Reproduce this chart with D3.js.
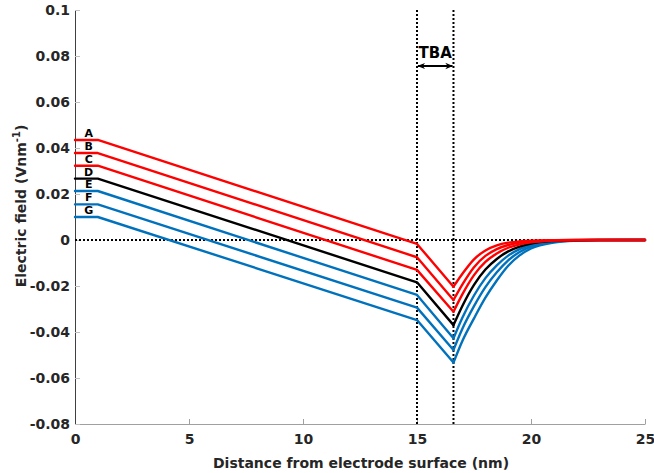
<!DOCTYPE html>
<html><head><meta charset="utf-8">
<script src="https://cdn.jsdelivr.net/npm/d3@7"></script>
<style>body{margin:0;background:#fff}svg{display:block}text{font-family:"DejaVu Sans",sans-serif;font-weight:bold}</style>
</head><body>
<script>
const xPoints = [0, 1, 15, 16.6, 17, 17.5, 18, 18.5, 19, 19.5, 20, 21, 22, 23, 25];
const seriesA = [0.0435, 0.0435, -0.0017, -0.0203, -0.01456, -0.0084, -0.00455, -0.00233, -0.00116, -0.00057, -0.00026, -0.00006, 0, 0, 0];
const seriesB = [0.0378, 0.0378, -0.0075, -0.0261, -0.01916, -0.0118, -0.00692, -0.00394, -0.00217, -0.00115, -0.0006, -0.00016, -0.00003, 0, 0];
const seriesC = [0.0323, 0.0323, -0.0130, -0.0312, -0.02343, -0.01526, -0.00955, -0.00583, -0.00337, -0.00187, -0.001, -0.00028, -0.00006, 0, 0];
const seriesD = [0.0267, 0.0267, -0.0184, -0.0370, -0.02845, -0.0195, -0.01284, -0.00825, -0.00496, -0.00285, -0.00155, -0.00044, -0.00009, -0.00002, 0];
const seriesE = [0.0213, 0.0213, -0.0239, -0.0427, -0.03356, -0.02413, -0.01657, -0.01102, -0.00679, -0.00397, -0.00218, -0.0006, -0.00013, -0.00003, 0];
const seriesF = [0.0155, 0.0155, -0.0294, -0.0478, -0.03838, -0.02878, -0.02051, -0.01405, -0.00884, -0.00521, -0.00292, -0.00081, -0.00019, -0.00004, 0];
const seriesG = [0.0100, 0.0100, -0.0348, -0.0533, -0.0437, -0.0341, -0.0251, -0.0176, -0.0112, -0.0067, -0.0037, -0.0011, -0.0003, -0.00005, 0];
const seriesNames = ["A", "B", "C", "D", "E", "F", "G"];
const seriesColors = ["#ff0000", "#ff0000", "#ff0000", "#000000", "#0072bd", "#0072bd", "#0072bd"];
const xTicks = [0, 5, 10, 15, 20, 25];
const yTicks = [-0.08, -0.06, -0.04, -0.02, 0, 0.02, 0.04, 0.06, 0.08, 0.1];
const yTickLabels = ["-0.08", "-0.06", "-0.04", "-0.02", "0", "0.02", "0.04", "0.06", "0.08", "0.1"];
const tbaBounds = [15, 16.6];
const xLabel = "Distance from electrode surface (nm)";
const yLabel = "Electric field (Vnm";

const FONT = '"DejaVu Sans",sans-serif';
const W = 654, H = 473;
const m = {l: 75, r: 9, t: 10, b: 49};
const x = d3.scaleLinear().domain([0, 25]).range([m.l, W - m.r]);
const y = d3.scaleLinear().domain([-0.08, 0.1]).range([H - m.b, m.t]);

const svg = d3.select("body").append("svg").attr("width", W).attr("height", H);

// axes
const xAxis = svg.append("g").attr("transform", `translate(0,${H - m.b})`)
  .call(d3.axisBottom(x).tickValues(xTicks).tickSizeInner(-5).tickSizeOuter(0).tickPadding(10).tickFormat(d3.format("d")));
xAxis.select(".domain").attr("stroke", "#a0a0a0");
xAxis.selectAll(".tick line").attr("stroke", "#a0a0a0");
xAxis.selectAll("text").attr("font-size", 14).attr("fill", "#262626").style("font-family", FONT).style("font-weight", "bold");

const yAxis = svg.append("g").attr("transform", `translate(${m.l},0)`)
  .call(d3.axisLeft(y).tickValues(yTicks).tickSizeInner(-5).tickSizeOuter(0).tickPadding(5)
    .tickFormat((d, i) => yTickLabels[i]));
yAxis.select(".domain").attr("stroke", "#404040");
yAxis.selectAll(".tick line").attr("stroke", "#c0c0c0");
yAxis.selectAll("text").attr("font-size", 14).attr("fill", "#262626").style("font-family", FONT).style("font-weight", "bold");

// reference dotted lines
svg.append("line").attr("x1", x(0)).attr("x2", x(25)).attr("y1", y(0)).attr("y2", y(0))
  .attr("stroke", "#000").attr("stroke-width", 2).attr("stroke-dasharray", "2,2");
tbaBounds.forEach(b => {
  svg.append("line").attr("x1", x(b)).attr("x2", x(b)).attr("y1", y(0.1)).attr("y2", y(-0.08))
    .attr("stroke", "#000").attr("stroke-width", 2).attr("stroke-dasharray", "2,2");
});

// curves
const all = [seriesA, seriesB, seriesC, seriesD, seriesE, seriesF, seriesG];
const lin = d3.line().x(d => x(d[0])).y(d => y(d[1]));
const smooth = d3.line().x(d => x(d[0])).y(d => y(d[1])).curve(d3.curveMonotoneX);
all.slice().reverse().forEach((s, ri) => {
  const i = all.length - 1 - ri;
  const pts = xPoints.map((xv, k) => [xv, s[k]]);
  const g = svg.append("g").attr("fill", "none").attr("stroke", seriesColors[i])
    .attr("stroke-width", 2.4).attr("stroke-linejoin", "round").attr("stroke-linecap", "round");
  g.append("path").attr("d", lin(pts.slice(0, 4)));
  g.append("path").attr("d", smooth(pts.slice(3)));
  svg.append("text").attr("x", x(0.6)).attr("y", y(s[0]) - 3).attr("text-anchor", "middle")
    .attr("font-size", 11).attr("fill", "#000").text(seriesNames[i]);
});

// TBA annotation
const ay = 66;
svg.append("text").attr("x", (x(tbaBounds[0]) + x(tbaBounds[1])) / 2).attr("y", 58).attr("text-anchor", "middle")
  .attr("font-size", 15).attr("fill", "#000").text("TBA");
const defs = svg.append("defs");
defs.append("marker").attr("id", "ah").attr("viewBox", "0 0 10 10").attr("refX", 9).attr("refY", 5)
  .attr("markerWidth", 4).attr("markerHeight", 4).attr("orient", "auto-start-reverse")
  .append("path").attr("d", "M0,1 L10,5 L0,9 L3,5 Z").attr("fill", "#000");
svg.append("line").attr("x1", x(tbaBounds[0]) + 1).attr("x2", x(tbaBounds[1]) - 1).attr("y1", ay).attr("y2", ay)
  .attr("stroke", "#000").attr("stroke-width", 2)
  .attr("marker-start", "url(#ah)").attr("marker-end", "url(#ah)");

// axis labels
svg.append("text").attr("x", 361).attr("y", 468).attr("text-anchor", "middle").attr("font-size", 14).attr("fill", "#262626").text(xLabel);
const yl = svg.append("text").attr("transform", "translate(26,206) rotate(-90)").attr("text-anchor", "middle")
  .attr("font-size", 14).attr("fill", "#262626");
yl.append("tspan").text(yLabel);
yl.append("tspan").attr("dy", -6).attr("font-size", 10).text("-1");
yl.append("tspan").attr("dy", 6).text(")");
</script>
</body></html>
